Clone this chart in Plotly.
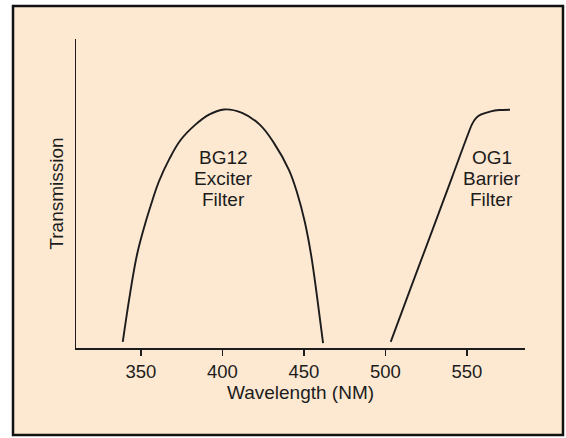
import plotly.graph_objects as go

# ---- data ----
bg12_nm = [338.9, 343.4, 347.8, 353.3, 357.2, 361.0, 367.5, 374.4, 383.3, 392.1, 401.0,
           412.1, 423.1, 431.7, 440.9, 446.0, 450.5, 454.5, 458.0, 461.8]
bg12_t = [0.020, 0.177, 0.306, 0.414, 0.480, 0.538, 0.612, 0.673, 0.722, 0.756, 0.772,
          0.761, 0.722, 0.663, 0.576, 0.500, 0.410, 0.300, 0.170, 0.016]

og1_nm = [503.3, 516.0, 529.0, 541.0, 553.0, 555.5, 558.5, 564.8, 570.0, 576.5]
og1_t = [0.020, 0.200, 0.383, 0.553, 0.722, 0.743, 0.755, 0.766, 0.770, 0.771]

tick_vals = [350, 400, 450, 500, 550]
tick_text = ["350", "400", "450", "500", "550"]

labels = [
    {"x": 401, "lines": ["BG12", "Exciter", "Filter"]},
    {"x": 565.3, "lines": ["OG1", "Barrier", "Filter"]},
]
label_line_y = [0.618, 0.550, 0.480]

INK = "#1c1c1c"
BG = "#FDE9D2"
FONT = "Liberation Sans, Arial, Helvetica, sans-serif"

fig = go.Figure()
fig.add_trace(go.Scatter(x=bg12_nm, y=bg12_t, mode="lines",
                         line=dict(color=INK, width=1.9, shape="spline", smoothing=1.1),
                         hoverinfo="skip", showlegend=False))
fig.add_trace(go.Scatter(x=og1_nm, y=og1_t, mode="lines",
                         line=dict(color=INK, width=1.9, shape="spline", smoothing=0.5),
                         hoverinfo="skip", showlegend=False))

for lab in labels:
    for txt, yy in zip(lab["lines"], label_line_y):
        fig.add_annotation(x=lab["x"], y=yy, xref="x", yref="y", text=txt,
                           showarrow=False, xanchor="center", yanchor="middle",
                           font=dict(family=FONT, size=19, color=INK))

# peach panel with black frame
fig.add_shape(type="rect", xref="paper", yref="paper",
              x0=-0.1403, x1=1.0846, y0=-0.2816, y1=1.1068,
              fillcolor=BG, line=dict(color="#111111", width=2.5), layer="below")

fig.update_layout(
    width=566, height=438,
    margin=dict(l=76, r=41, t=39, b=90),
    paper_bgcolor="white",
    plot_bgcolor="rgba(0,0,0,0)",
    font=dict(family=FONT, color=INK),
    hovermode=False,
    xaxis=dict(range=[310.2, 585.7], showgrid=False, zeroline=False,
               showline=True, linecolor=INK, linewidth=1.5,
               ticks="outside", ticklen=6, tickwidth=1.5, tickcolor=INK,
               tickvals=tick_vals, ticktext=tick_text,
               tickfont=dict(family=FONT, size=18.5, color=INK),
               title=dict(text="Wavelength (NM)", standoff=4,
                          font=dict(family=FONT, size=19, color=INK))),
    yaxis=dict(range=[0, 1], showgrid=False, zeroline=False,
               showline=True, linecolor=INK, linewidth=1.5,
               showticklabels=False, ticks="",
               title=dict(text="Transmission", standoff=6,
                          font=dict(family=FONT, size=19, color=INK))),
)

fig.write_html("out.html",
               config={"displayModeBar": False, "staticPlot": True},
               post_script="document.body.style.margin='0';document.body.style.overflow='hidden';")
